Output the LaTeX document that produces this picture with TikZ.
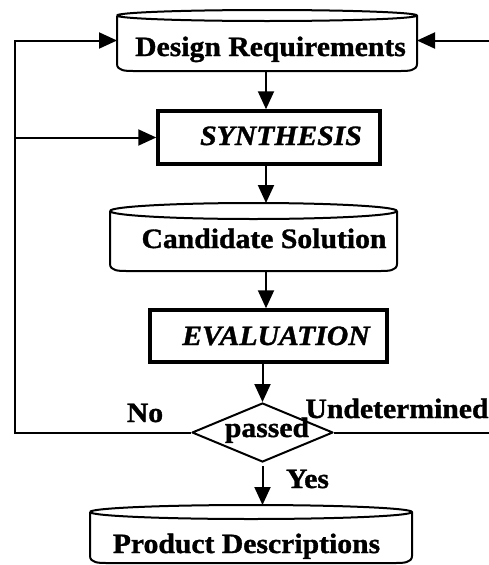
\documentclass[tikz,border=0pt]{standalone}
\usepackage{fontspec}
\setmainfont{Liberation Serif}[FakeStretch=1.06,
  BoldFeatures={FakeBold=1.2}, BoldItalicFeatures={FakeBold=1.2}]
\usetikzlibrary{arrows.meta,shapes.geometric,calc}

\tikzset{
  outline/.style={line width=2pt, line join=round},
  frame/.style={draw=none, inner sep=0pt, outer sep=0pt},
  procbox/.style={draw, line width=3.5pt, inner sep=0pt},
  decision/.style={draw, diamond, line width=2pt, line join=round, inner sep=0pt},
  conn/.style={line width=2pt},
  arrow/.style={conn, -{Triangle[length=18pt,width=16pt]}},
  txt/.style={font=\fontsize{28}{33}\selectfont\bfseries, inner sep=0pt, anchor=base},
  itxt/.style={txt, font=\fontsize{28}{33}\selectfont\bfseries\itshape},
}

% drum outline: elliptic lid on top, straight sides, rounded bottom corners
\newcommand{\drumoutline}[2]{%
  \draw[outline] let \p1=(#1.north west), \p2=(#1.south east), \n1={(\x2-\x1)/2} in
    (\x1,\y1-#2) arc[start angle=180, end angle=-180, x radius=\n1, y radius=#2]
    (\x1,\y1-#2) -- (\x1,\y2+7pt) to[out=-90,in=180] (\x1+16pt,\y2)
    -- (\x2-16pt,\y2) to[out=0,in=-90] (\x2,\y2+7pt) -- (\x2,\y1-#2);
}

\begin{document}
\begin{tikzpicture}[x=1pt,y=-1pt]
  \useasboundingbox (0,0) rectangle (489,565);

  % stores and process boxes
  \node[frame, minimum width=300pt, minimum height=61pt] (req) at (267,40.5) {};
  \node[procbox, minimum width=222pt, minimum height=53pt] (syn) at (269,137.5) {};
  \node[frame, minimum width=287pt, minimum height=68pt] (cand) at (253.5,237) {};
  \node[procbox, minimum width=237pt, minimum height=52pt] (eval) at (268.5,336) {};
  \node[decision, aspect=2.39, minimum width=141pt, minimum height=59pt] (dia) at (262.5,432.5) {};
  \node[frame, minimum width=322pt, minimum height=58pt] (prod) at (251,534) {};

  \drumoutline{req}{5.5pt}
  \drumoutline{cand}{8pt}
  \drumoutline{prod}{7pt}

  % texts
  \node[txt]  (reqtxt)  at (270.5,56)  {Design Requirements};
  \node[itxt] (syntxt)  at (281,145)   {SYNTHESIS};
  \node[txt]  (candtxt) at (264,248)   {Candidate Solution};
  \node[itxt] (evaltxt) at (276,345)   {EVALUATION};
  \node[txt]  (passtxt) at (267,437)   {passed};
  \node[txt]  (notxt)   at (145,422)   {No};
  \node[txt]  (undtxt)  at (397,418)   {Undetermined};
  \node[txt]  (yestxt)  at (307.5,488) {Yes};
  \node[txt]  (prodtxt) at (246.5,553) {Product Descriptions};

  % guide lines for the connectors
  \coordinate (spine) at (266,0);
  \coordinate (lx) at (15,0);
  \coordinate (rx) at (489,0);

  % main flow
  \draw[arrow] (req.south -| spine) -- (syn.north -| spine);
  \draw[arrow] (syn.south -| spine) -- (cand.north -| spine);
  \draw[arrow] (cand.south -| spine) -- (eval.north -| spine);
  \draw[arrow] (dia.north |- eval.south) -- (dia.north);
  \draw[arrow, shorten <=3pt] (dia.south) -- (prod.north -| dia.south);

  % feedback loops
  \draw[arrow] (dia.west) -- (dia.west -| lx) |- (req.west);
  \draw[arrow] (syn.west -| lx) -- (syn.west);
  \draw[conn] (dia.east) -- (dia.east -| rx);
  \draw[arrow] (req.east -| rx) -- (req.east);
\end{tikzpicture}
\end{document}
